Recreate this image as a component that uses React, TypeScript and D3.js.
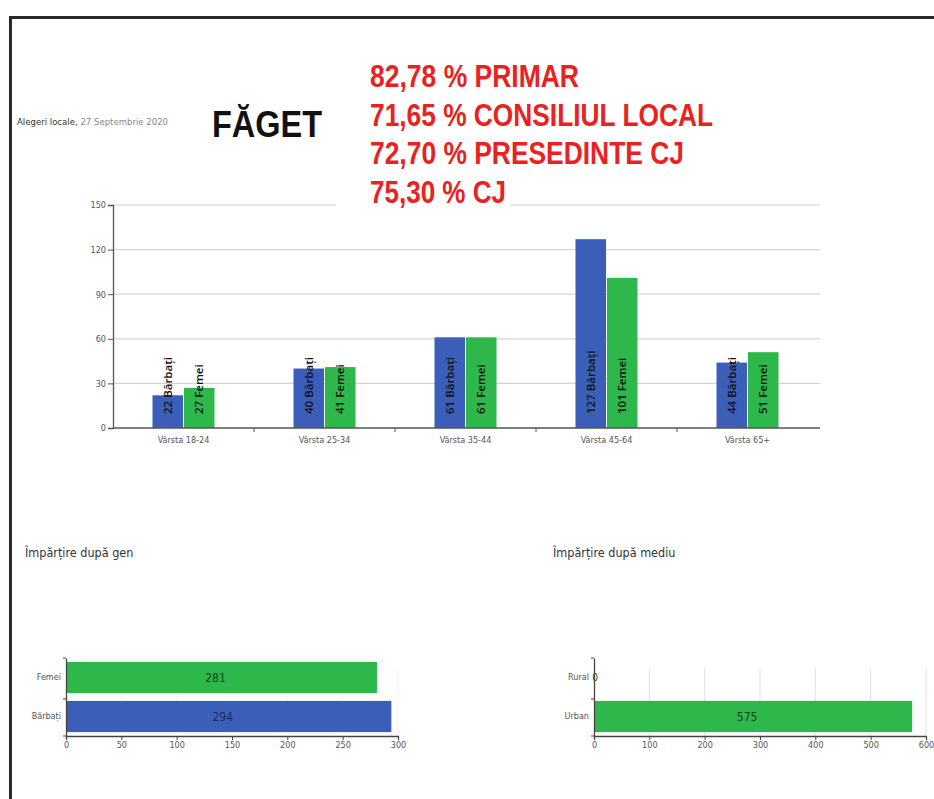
import { useEffect, useRef } from 'react';
import * as d3 from 'd3';

// Main chart: voters by age group
const ageGroups = ['Vârsta 18-24', 'Vârsta 25-34', 'Vârsta 35-44', 'Vârsta 45-64', 'Vârsta 65+'];
const menValues = [22, 40, 61, 127, 44];
const womenValues = [27, 41, 61, 101, 51];
const ageTicks = [0, 30, 60, 90, 120, 150];

// Bottom left: split by gender
const genderCats = ['Femei', 'Bărbați'];
const genderValues = [281, 294];
const genderTicks = [0, 50, 100, 150, 200, 250, 300];

// Bottom right: split by area
const areaCats = ['Rural', 'Urban'];
const areaValues = [0, 575];
const areaTicks = [0, 100, 200, 300, 400, 500, 600];

const headlines = ['82,78 % PRIMAR', '71,65 % CONSILIUL LOCAL', '72,70 % PRESEDINTE CJ', '75,30 % CJ'];
const headlineWidths = [209, 343, 314, 136];

const BLUE = '#3b5fb9';
const GREEN = '#2eb84b';
const RED = '#e8231f';
const NARROW = "'Liberation Sans Narrow', 'DejaVu Sans Condensed', sans-serif";
const LABEL = "'Open Sans', 'DejaVu Sans', sans-serif";

const W = 934;
const H = 799;

const App = () => {
  const svgRef = useRef<SVGSVGElement>(null);

  useEffect(() => {
    if (!svgRef.current) return;
    const svg = d3.select(svgRef.current);
    svg.selectAll('*').remove();

    svg.append('rect').attr('width', W).attr('height', H).attr('fill', '#fff');

    // frame
    svg.append('path')
      .attr('d', `M10.5,${H + 5} V17.5 H${W + 5}`)
      .attr('fill', 'none')
      .attr('stroke', '#2b2b2b')
      .attr('stroke-width', 3);

    // ---- main grouped bar chart ----
    const x = d3.scaleBand<string>().domain(ageGroups).range([113, 818]);
    const y = d3.scaleLinear().domain([0, 150]).range([428, 205]);
    const groupW = 62;
    const sub = d3.scaleBand<string>()
      .domain(['m', 'f'])
      .range([x.bandwidth() / 2 - groupW / 2, x.bandwidth() / 2 + groupW / 2])
      .paddingInner(0.03);

    const main = svg.append('g');

    // gridlines
    main.selectAll('.grid')
      .data(ageTicks.filter(d => d > 0))
      .enter()
      .append('line')
      .attr('x1', 113)
      .attr('x2', 820)
      .attr('y1', d => y(d))
      .attr('y2', d => y(d))
      .attr('stroke', '#d4d4d4')
      .attr('stroke-width', 1.2);

    // y axis
    const yAxis = main.append('g')
      .attr('transform', 'translate(113,0)')
      .call(d3.axisLeft(y).tickValues(ageTicks).tickSize(5).tickPadding(2));
    yAxis.select('.domain').attr('stroke', '#555').attr('stroke-width', 1.3);
    yAxis.selectAll('.tick line').attr('stroke', '#555');
    yAxis.selectAll('text')
      .attr('fill', '#555')
      .style('font-family', NARROW)
      .style('font-size', '9px');

    // bars
    const groups = main.selectAll('.grp')
      .data(ageGroups)
      .enter()
      .append('g')
      .attr('transform', d => `translate(${x(d)},0)`);

    const barData = (i: number) => [
      { key: 'm', value: menValues[i], color: BLUE, label: `${menValues[i]} Bărbați` },
      { key: 'f', value: womenValues[i], color: GREEN, label: `${womenValues[i]} Femei` },
    ];

    groups.each(function (_d, i) {
      const g = d3.select(this);
      const bars = barData(i);
      g.selectAll('rect')
        .data(bars)
        .enter()
        .append('rect')
        .attr('x', b => sub(b.key) as number)
        .attr('width', sub.bandwidth())
        .attr('y', b => y(b.value))
        .attr('height', b => y(0) - y(b.value))
        .attr('fill', b => b.color);
      g.selectAll('text.bl')
        .data(bars)
        .enter()
        .append('text')
        .attr('class', 'bl')
        .attr('transform', b => `translate(${(sub(b.key) as number) + sub.bandwidth() / 2},${y(0) - 14}) rotate(-90)`)
        .attr('dy', '0.35em')
        .attr('fill', '#111')
        .style('font-family', LABEL)
        .style('font-size', '11.5px')
        .style('font-weight', 600)
        .text(b => b.label);
    });

    // x axis
    const xAxis = main.append('g')
      .attr('transform', `translate(0,${y(0)})`)
      .call(d3.axisBottom(x).tickSize(0).tickPadding(9));
    xAxis.select('.domain').attr('stroke', '#555').attr('stroke-width', 1.3).attr('d', 'M113,0H820');
    xAxis.selectAll('text')
      .attr('fill', '#555')
      .style('font-family', NARROW)
      .style('font-size', '9px');
    xAxis.selectAll('.sep')
      .data(ageGroups.slice(1))
      .enter()
      .append('line')
      .attr('x1', d => x(d) as number)
      .attr('x2', d => x(d) as number)
      .attr('y1', 0)
      .attr('y2', 4)
      .attr('stroke', '#555');

    // ---- header texts ----
    svg.append('rect')
      .attr('x', 336)
      .attr('y', 188)
      .attr('width', 174)
      .attr('height', 24)
      .attr('fill', '#fff');

    svg.append('text')
      .attr('x', 17)
      .attr('y', 125)
      .style('font-family', NARROW)
      .style('font-size', '9.5px')
      .attr('fill', '#555')
      .call(t => {
        t.append('tspan').attr('fill', '#333').text('Alegeri locale, ');
        t.append('tspan').attr('fill', '#888').text('27 Septembrie 2020');
      });

    svg.append('text')
      .attr('x', 212)
      .attr('y', 137)
      .attr('textLength', 110)
      .attr('lengthAdjust', 'spacingAndGlyphs')
      .attr('fill', '#111')
      .style('font-family', "'Liberation Sans', Arial, sans-serif")
      .style('font-size', '37px')
      .style('font-weight', 'bold')
      .text('FĂGET');

    svg.selectAll('.headline')
      .data(headlines)
      .enter()
      .append('text')
      .attr('x', 370)
      .attr('y', (_d, i) => 87 + i * 38.7)
      .attr('textLength', (_d, i) => headlineWidths[i])
      .attr('lengthAdjust', 'spacingAndGlyphs')
      .attr('fill', RED)
      .style('font-family', "'Liberation Sans', Arial, sans-serif")
      .style('font-size', '31px')
      .style('font-weight', 'bold')
      .text(d => d);

    // ---- horizontal bar charts ----
    const drawHBar = (
      title: string,
      titleX: number,
      cats: string[],
      values: number[],
      colors: string[],
      ticks: number[],
      x0: number,
      x1: number,
      grid: string,
    ) => {
      const g = svg.append('g');
      g.append('text')
        .attr('x', titleX)
        .attr('y', 557)
        .attr('fill', '#333')
        .style('font-family', NARROW)
        .style('font-size', '12.5px')
        .text(title);

      const hx = d3.scaleLinear().domain([0, ticks[ticks.length - 1]]).range([x0, x1]);
      const hy = d3.scaleBand<string>().domain(cats).range([658, 736]).paddingInner(0.2).paddingOuter(0.1);

      g.selectAll('.vgrid')
        .data(ticks.slice(1))
        .enter()
        .append('line')
        .attr('x1', d => hx(d))
        .attr('x2', d => hx(d))
        .attr('y1', 668)
        .attr('y2', 736)
        .attr('stroke', grid);

      g.selectAll('rect.hb')
        .data(cats)
        .enter()
        .append('rect')
        .attr('class', 'hb')
        .attr('x', hx(0))
        .attr('y', d => hy(d) as number)
        .attr('width', (_d, i) => hx(values[i]) - hx(0))
        .attr('height', hy.bandwidth())
        .attr('fill', (_d, i) => colors[i]);

      g.selectAll('text.hv')
        .data(cats)
        .enter()
        .append('text')
        .attr('class', 'hv')
        .attr('x', (_d, i) => Math.max(hx(values[i] / 2) - 6, hx(0) + 1))
        .attr('y', d => (hy(d) as number) + hy.bandwidth() / 2)
        .attr('dy', '0.35em')
        .attr('text-anchor', 'middle')
        .attr('fill', (_d, i) => (colors[i] === BLUE ? '#1c2b5c' : '#173d1f'))
        .style('font-family', NARROW)
        .style('font-size', (_d, i) => (values[i] === 0 ? '10px' : '12px'))
        .text((_d, i) => values[i]);

      const ya = g.append('g')
        .attr('transform', `translate(${x0},0)`)
        .call(d3.axisLeft(hy).tickSize(0).tickPadding(5));
      ya.select('.domain').attr('stroke', '#444').attr('stroke-width', 1.3);
      ya.selectAll('text')
        .attr('fill', '#555')
        .style('font-family', NARROW)
        .style('font-size', '9px');
      ya.selectAll('.sep')
        .data([658, 658 + hy.step() * 1.05, 736])
        .enter()
        .append('line')
        .attr('x1', -3)
        .attr('x2', 0)
        .attr('y1', d => d)
        .attr('y2', d => d)
        .attr('stroke', '#444');

      const xa = g.append('g')
        .attr('transform', 'translate(0,736)')
        .call(d3.axisBottom(hx).tickValues(ticks).tickSize(4).tickPadding(2).tickFormat(d3.format('d')));
      xa.select('.domain').attr('stroke', '#444').attr('stroke-width', 1.3);
      xa.selectAll('.tick line').attr('stroke', '#444');
      xa.selectAll('text')
        .attr('fill', '#555')
        .style('font-family', NARROW)
        .style('font-size', '9px');
    };

    drawHBar('Împărțire după gen', 25, genderCats, genderValues, [GREEN, BLUE], genderTicks, 66, 398, '#f3f3f3');
    drawHBar('Împărțire după mediu', 553, areaCats, areaValues, [GREEN, GREEN], areaTicks, 594, 926, '#e2e2e2');
  }, []);

  return (
    <svg
      ref={svgRef}
      width={W}
      height={H}
      style={{ position: 'absolute', left: 0, top: 0, display: 'block' }}
    />
  );
};

export default App;
